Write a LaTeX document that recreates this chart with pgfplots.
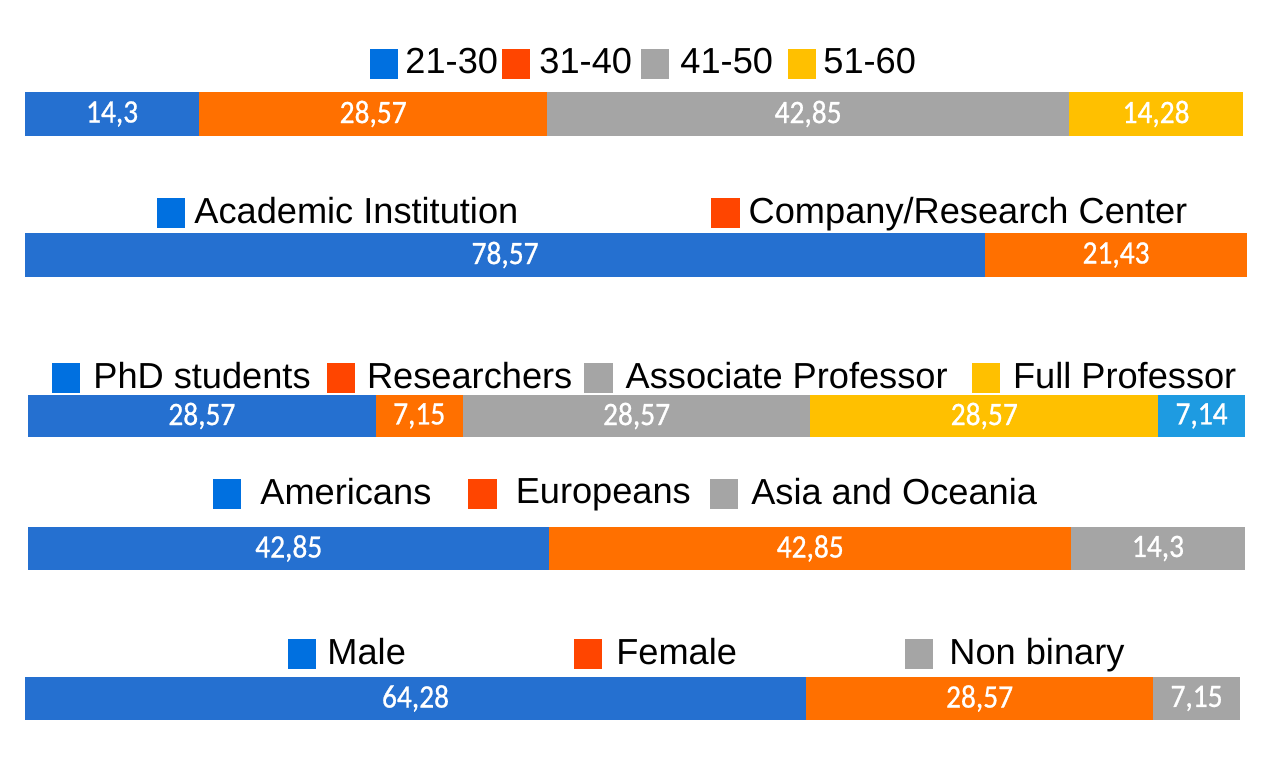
\documentclass[border=0pt]{standalone}
\usepackage{fontspec}
\setmainfont{Liberation Sans}
\newfontfamily\barfont[FakeStretch=0.9,FakeBold=0.8]{Carlito}
\usepackage{pgfplots}
\pgfplotsset{compat=1.18}
\definecolor{BBlue}{RGB}{37,112,208}
\definecolor{BOrange}{RGB}{255,112,0}
\definecolor{BGray}{RGB}{165,165,165}
\definecolor{BYellow}{RGB}{255,192,0}
\definecolor{BLight}{RGB}{30,155,225}
\definecolor{LBlue}{RGB}{0,112,224}
\definecolor{LOrange}{RGB}{255,69,0}
\definecolor{LGray}{RGB}{165,165,165}
\definecolor{LYellow}{RGB}{255,192,0}
\newcommand{\sqimg}[2]{\addlegendimage{legend image code/.code={\fill[#1] (0mm,-1.4mm) rectangle (2.7mm,1.4mm); \path (2.7mm+#2mm,0mm);}}}
\newcommand{\gap}[1]{\rule{#1mm}{0pt}}
\pgfplotsset{
  bars/.style={
    scale only axis, xmin=0, xmax=100, ymin=0.5, ymax=1.5,
    xbar stacked, hide axis, anchor=south west,
    legend columns=-1,
    legend style={draw=none, fill=none, inner sep=0pt, outer sep=0pt,
      anchor=west, column sep=0pt, nodes={inner sep=0pt, outer sep=0pt},
      font=\fontsize{10.3}{12}\selectfont},
    legend cell align=left,
    nodes near coords, point meta=explicit symbolic,
    every node near coord/.append style={font=\barfont\fontsize{9.3}{10}\selectfont, text=white},
  },
  seg/.style={fill=#1, draw=none, forget plot},
}
\begin{document}
\begin{tikzpicture}
\useasboundingbox (0,0) rectangle (128.6mm,-77.2mm);
% Age
\begin{axis}[bars, at={(2.5mm,-13.6mm)}, width=121.8mm, height=4.4mm, bar width=4.4mm,
  legend style={at={(0.2833,1.637)}}]
\sqimg{LBlue}{0.7}\addlegendentry{21-30\gap{0.4}}
\sqimg{LOrange}{0.9}\addlegendentry{31-40\gap{0.9}}
\sqimg{LGray}{1.1}\addlegendentry{41-50\gap{1.5}}
\sqimg{LYellow}{0.7}\addlegendentry{51-60}
\addplot[seg=BBlue] coordinates {(14.3,1) [14,3]};
\addplot[seg=BOrange] coordinates {(28.57,1) [28,57]};
\addplot[seg=BGray] coordinates {(42.85,1) [42,85]};
\addplot[seg=BYellow] coordinates {(14.28,1) [14,28]};
\end{axis}
% Institution
\begin{axis}[bars, at={(2.5mm,-27.7mm)}, width=122.2mm, height=4.4mm, bar width=4.4mm,
  legend style={at={(0.1080,1.455)}}]
\sqimg{LBlue}{0.9}\addlegendentry{Academic Institution\gap{19.3}}
\sqimg{LOrange}{0.9}\addlegendentry{Company/Research Center}
\addplot[seg=BBlue] coordinates {(78.57,1) [78,57]};
\addplot[seg=BOrange] coordinates {(21.43,1) [21,43]};
\end{axis}
% Position
\begin{axis}[bars, at={(2.8mm,-43.7mm)}, width=121.7mm, height=4.2mm, bar width=4.2mm,
  legend style={at={(0.0197,1.405)}}]
\sqimg{LBlue}{1.3}\addlegendentry{PhD students\gap{1.6}}
\sqimg{LOrange}{1.2}\addlegendentry{Researchers\gap{1.2}}
\sqimg{LGray}{1.3}\addlegendentry{Associate Professor\gap{2.4}}
\sqimg{LYellow}{1.3}\addlegendentry{Full Professor}
\addplot[seg=BBlue] coordinates {(28.57,1) [28,57]};
\addplot[seg=BOrange] coordinates {(7.15,1) [7,15]};
\addplot[seg=BGray] coordinates {(28.57,1) [28,57]};
\addplot[seg=BYellow] coordinates {(28.57,1) [28,57]};
\addplot[seg=BLight] coordinates {(7.14,1) [7,14]};
\end{axis}
% Origin
\begin{axis}[bars, at={(2.8mm,-57.0mm)}, width=121.7mm, height=4.3mm, bar width=4.3mm,
  legend style={at={(0.152,1.768)}}]
\sqimg{LBlue}{1.9}\addlegendentry{Americans\gap{3.7}}
\sqimg{LOrange}{1.9}\addlegendentry{Europeans\gap{1.9}}
\sqimg{LGray}{1.3}\addlegendentry{Asia and Oceania}
\addplot[seg=BBlue] coordinates {(42.85,1) [42,85]};
\addplot[seg=BOrange] coordinates {(42.85,1) [42,85]};
\addplot[seg=BGray] coordinates {(14.3,1) [14,3]};
\end{axis}
% Gender
\begin{axis}[bars, at={(2.5mm,-72.0mm)}, width=121.5mm, height=4.3mm, bar width=4.3mm,
  legend style={at={(0.2165,1.535)}}]
\sqimg{LBlue}{1.1}\addlegendentry{Male\gap{16.8}}
\sqimg{LOrange}{1.4}\addlegendentry{Female\gap{16.8}}
\sqimg{LGray}{1.6}\addlegendentry{Non binary}
\addplot[seg=BBlue] coordinates {(64.28,1) [64,28]};
\addplot[seg=BOrange] coordinates {(28.57,1) [28,57]};
\addplot[seg=BGray] coordinates {(7.15,1) [7,15]};
\end{axis}
\end{tikzpicture}
\end{document}
